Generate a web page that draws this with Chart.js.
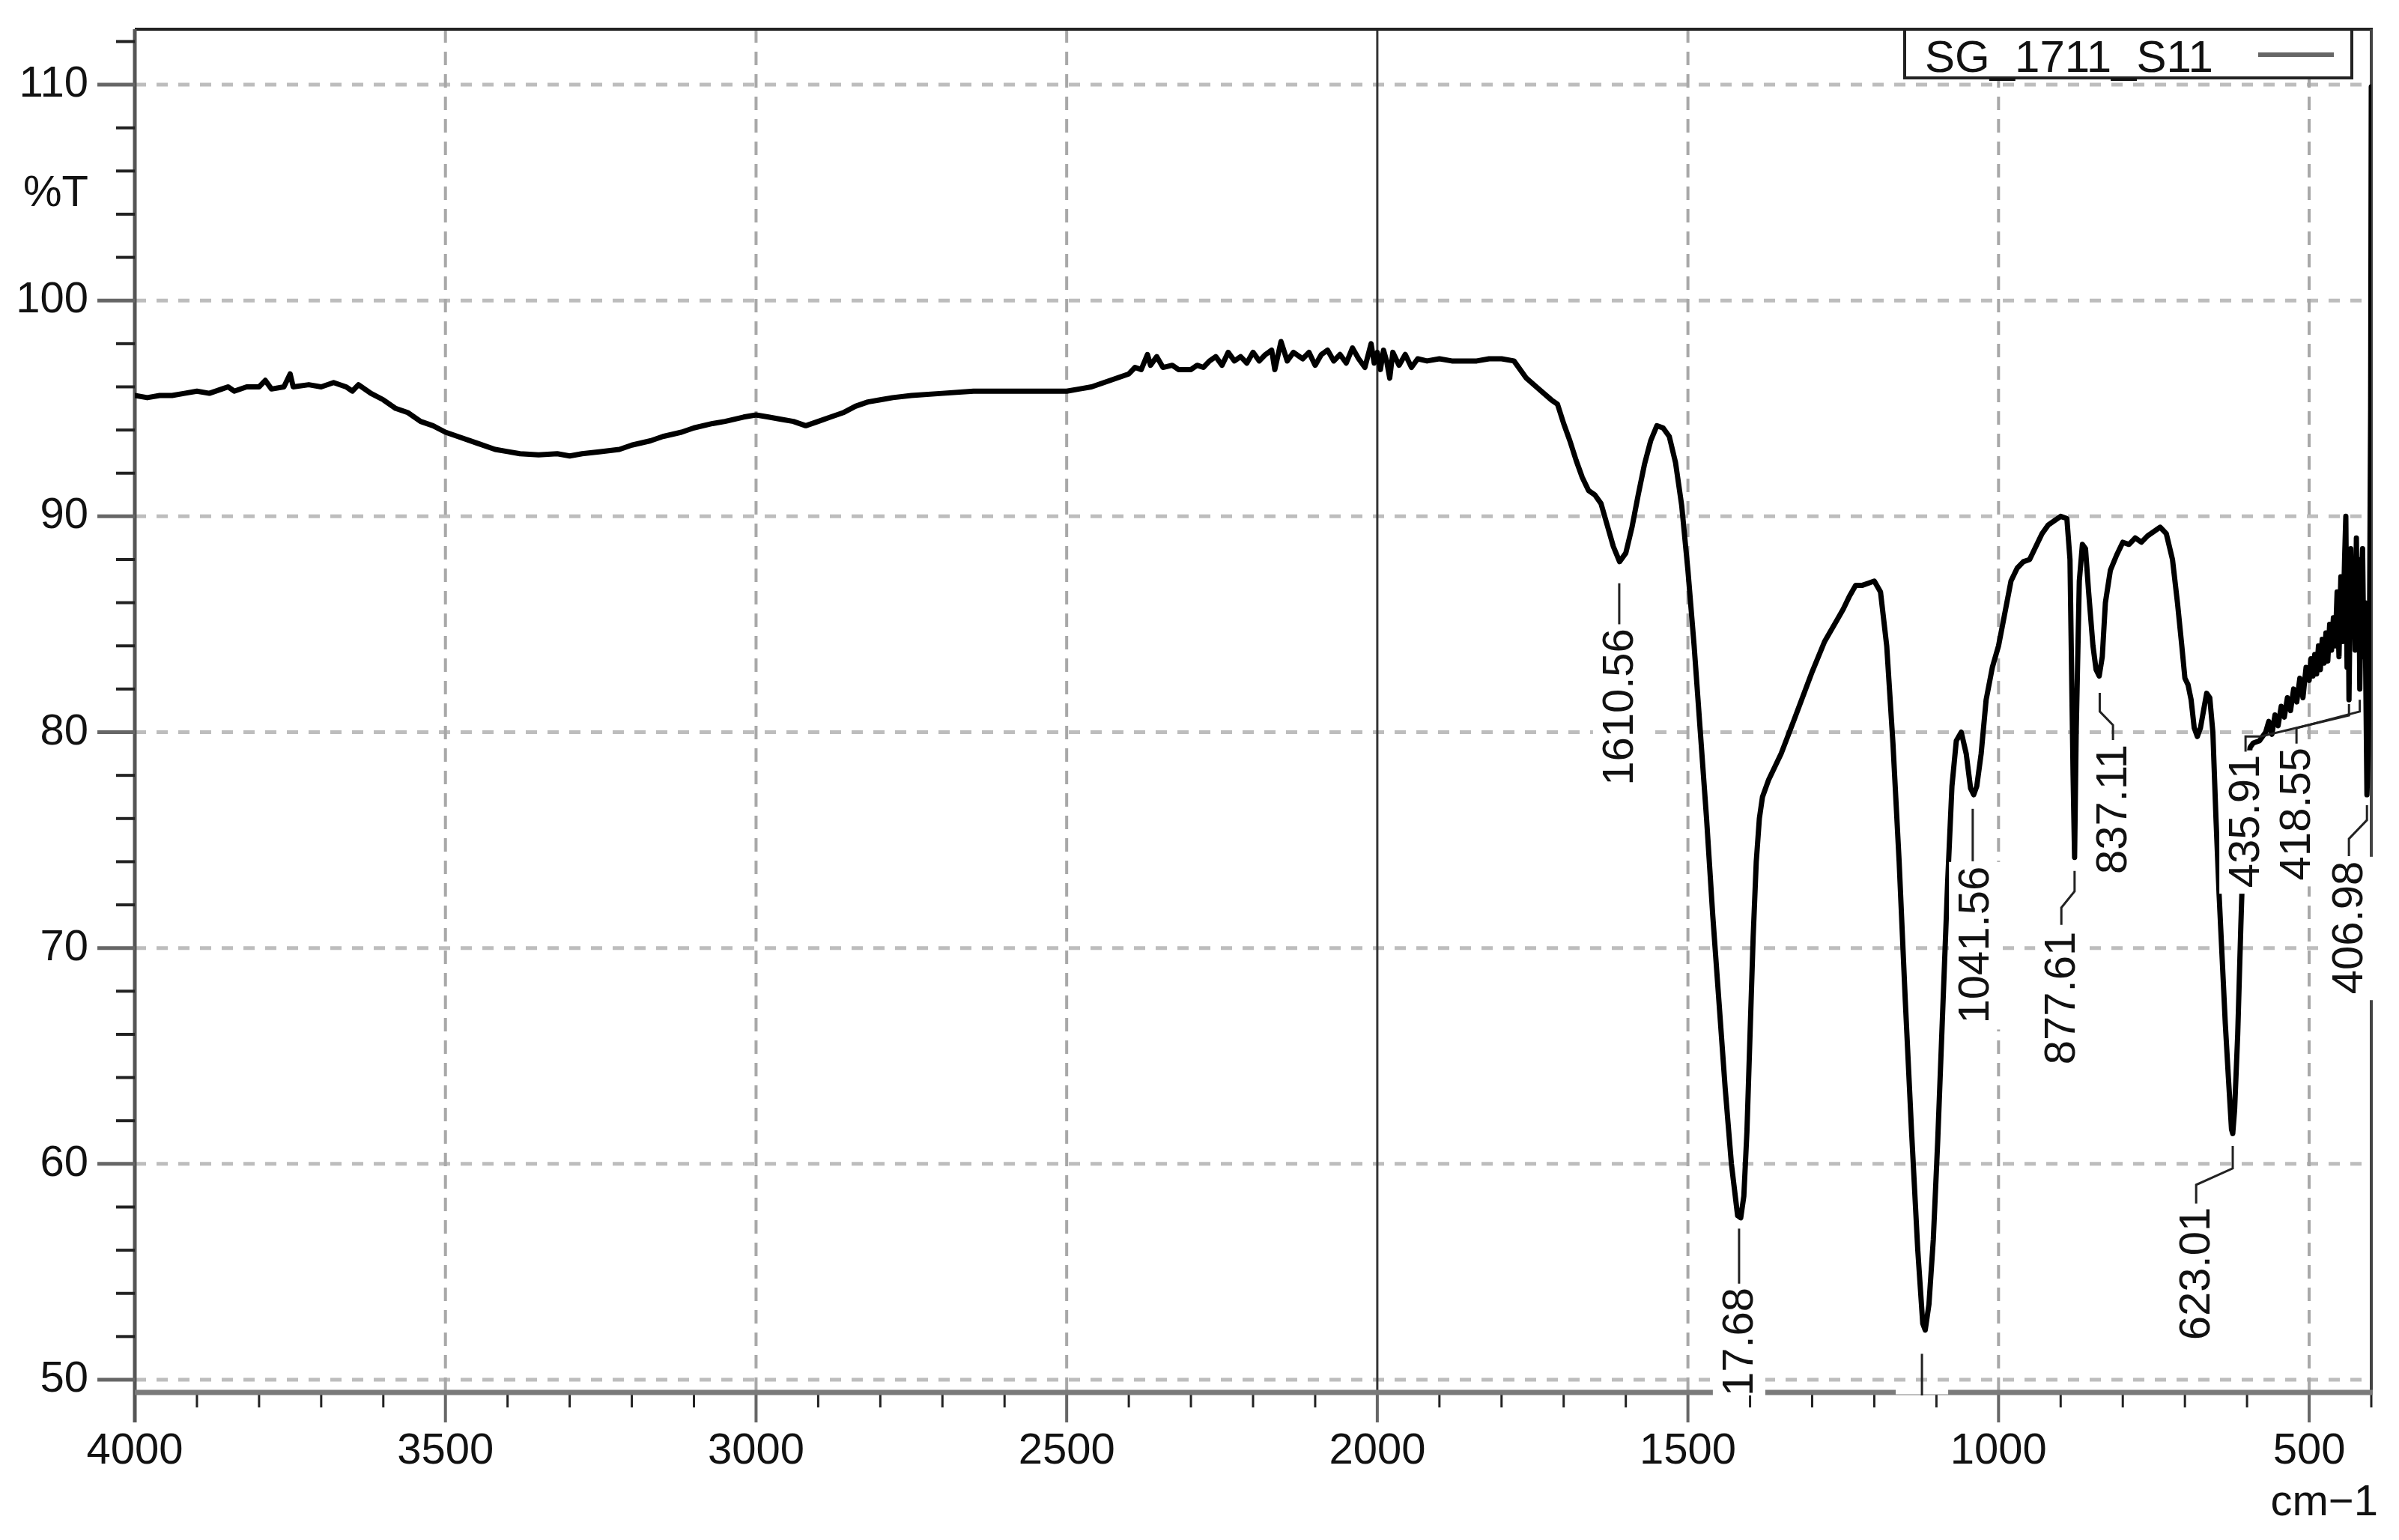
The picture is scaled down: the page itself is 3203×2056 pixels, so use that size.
<!DOCTYPE html>
<html>
<head>
<meta charset="utf-8">
<script src="https://cdn.jsdelivr.net/npm/chart.js@4.4.1/dist/chart.umd.min.js"></script>
<style>
  html, body { margin: 0; padding: 0; background: #fff; }
  canvas { display: block; }
</style>
</head>
<body>
<canvas id="ir" width="3203" height="2056"></canvas>
<script>
// IR spectrum SG_1711_S11, wavenumber (cm-1) vs %T
const wavenumbers = [
  4000, 3980, 3960, 3940, 3920, 3900, 3880, 3860, 3850, 3840,
  3820, 3800, 3790, 3780, 3760, 3750, 3745, 3720, 3700, 3680,
  3660, 3650, 3640, 3620, 3600, 3580, 3560, 3540, 3520, 3500,
  3480, 3450, 3420, 3400, 3380, 3350, 3320, 3300, 3280, 3250,
  3220, 3200, 3170, 3150, 3120, 3100, 3070, 3050, 3020, 3000,
  2980, 2960, 2940, 2920, 2900, 2880, 2860, 2840, 2820, 2800,
  2780, 2750, 2700, 2650, 2600, 2550, 2500, 2480, 2460, 2440,
  2420, 2400, 2390, 2380, 2370, 2365, 2355, 2345, 2330, 2320,
  2300, 2290, 2280, 2270, 2260, 2250, 2240, 2230, 2220, 2210,
  2200, 2190, 2180, 2170, 2165, 2155, 2145, 2135, 2120, 2110,
  2100, 2090, 2080, 2070, 2060, 2050, 2040, 2030, 2020, 2010,
  2005, 2000, 1995, 1990, 1985, 1980, 1975, 1965, 1955, 1945,
  1935, 1920, 1900, 1880, 1860, 1840, 1820, 1800, 1780, 1760,
  1740, 1720, 1710, 1700, 1690, 1680, 1670, 1660, 1650, 1640,
  1630, 1620, 1610, 1600, 1590, 1580, 1570, 1560, 1550, 1540,
  1530, 1520, 1510, 1500, 1490, 1480, 1470, 1460, 1450, 1440,
  1430, 1420, 1415, 1410, 1405, 1400, 1395, 1390, 1385, 1380,
  1370, 1350, 1330, 1300, 1280, 1260, 1250, 1240, 1230, 1220,
  1210, 1200, 1190, 1180, 1170, 1160, 1150, 1140, 1130, 1122,
  1118, 1112, 1105, 1098, 1090, 1082, 1075, 1068, 1060, 1052,
  1045, 1040, 1035, 1028, 1020, 1010, 1000, 990, 980, 970,
  960, 950, 940, 930, 920, 910, 900, 890, 885, 880,
  877.6, 875, 870, 865, 860, 855, 848, 843, 838, 833,
  828, 820, 810, 800, 790, 780, 770, 760, 750, 740,
  730, 720, 712, 705, 700, 695, 690, 685, 680, 675,
  670, 665, 660, 655, 650, 645, 640, 635, 630, 625,
  623, 620, 615, 610, 605, 600, 595, 590, 580, 570,
  565, 560, 555, 550, 545, 540, 535, 530, 525, 520,
  515, 510, 505, 500, 497, 494, 491, 488, 485, 482,
  479, 476, 473, 470, 467, 464, 461, 458, 455, 452,
  449, 446, 443, 441, 439, 437, 435.9, 433, 430, 428,
  426, 424, 422, 420, 418.5, 416, 414, 412, 410, 408,
  407, 405, 403, 401, 400
];
const transmittance = [
  95.6, 95.5, 95.6, 95.6, 95.7, 95.8, 95.7, 95.9, 96.0, 95.8,
  96.0, 96.0, 96.3, 95.9, 96.0, 96.6, 96.0, 96.1, 96.0, 96.2,
  96.0, 95.8, 96.1, 95.7, 95.4, 95.0, 94.8, 94.4, 94.2, 93.9,
  93.7, 93.4, 93.1, 93.0, 92.9, 92.85, 92.9, 92.8, 92.9, 93.0,
  93.1, 93.3, 93.5, 93.7, 93.9, 94.1, 94.3, 94.4, 94.6, 94.7,
  94.6, 94.5, 94.4, 94.2, 94.4, 94.6, 94.8, 95.1, 95.3, 95.4,
  95.5, 95.6, 95.7, 95.8, 95.8, 95.8, 95.8, 95.9, 96.0, 96.2,
  96.4, 96.6, 96.9, 96.8, 97.5, 97.0, 97.4, 96.9, 97.0, 96.8,
  96.8, 97.0, 96.9, 97.2, 97.4, 97.0, 97.6, 97.2, 97.4, 97.1,
  97.6, 97.2, 97.5, 97.7, 96.8, 98.1, 97.2, 97.6, 97.3, 97.6,
  97.0, 97.5, 97.7, 97.2, 97.5, 97.1, 97.8, 97.3, 96.9, 98.0,
  97.1, 97.6, 96.8, 97.7, 97.2, 96.4, 97.6, 97.0, 97.5, 96.9,
  97.3, 97.2, 97.3, 97.2, 97.2, 97.2, 97.3, 97.3, 97.2, 96.4,
  95.9, 95.4, 95.2, 94.3, 93.5, 92.6, 91.8, 91.2, 91.0, 90.6,
  89.6, 88.6, 87.9, 88.3, 89.5, 91.0, 92.4, 93.5, 94.2, 94.1,
  93.7, 92.5, 90.5, 87.5, 84.0, 80.0, 76.0, 71.5, 67.5, 63.5,
  60.0, 57.6, 57.5, 58.5, 61.5, 66.0, 70.5, 74.0, 76.0, 77.0,
  77.8, 79.0, 80.5, 82.8, 84.2, 85.2, 85.7, 86.3, 86.8, 86.8,
  86.9, 87.0, 86.5, 84.0, 79.5, 74.0, 67.5, 61.5, 56.0, 52.6,
  52.3, 53.5, 56.5, 61.0, 67.0, 73.0, 77.5, 79.6, 80.0, 79.0,
  77.4, 77.1, 77.5, 79.0, 81.5, 83.0, 84.0, 85.5, 87.0, 87.6,
  87.9, 88.0, 88.6, 89.2, 89.6, 89.8, 90.0, 89.9, 88.0, 78.0,
  74.2, 80.0, 87.0, 88.7, 88.5, 86.5, 84.0, 82.9, 82.6, 83.5,
  86.0, 87.5, 88.2, 88.8, 88.7, 89.0, 88.8, 89.1, 89.3, 89.5,
  89.2, 88.0, 86.0, 84.0, 82.5, 82.2, 81.5, 80.2, 79.8, 80.2,
  81.0, 81.8, 81.6, 80.0, 76.0, 72.5, 69.5, 66.5, 64.0, 61.6,
  61.4, 62.5, 66.0, 71.0, 75.5, 78.3, 79.3, 79.5, 79.6, 80.0,
  80.5, 79.9, 80.8, 80.3, 81.2, 80.7, 81.6, 81.0, 82.0, 81.4,
  82.5, 81.6, 83.0, 82.4, 83.4, 82.6, 83.6, 82.7, 84.0, 82.9,
  84.3, 83.2, 84.6, 83.3, 85.0, 83.8, 85.3, 84.0, 86.5, 83.5,
  87.2, 84.2, 88.0, 90.0, 83.0, 86.0, 81.5, 88.5, 84.5, 87.5,
  83.8, 89.0, 84.0, 88.0, 82.0, 87.0, 88.5, 83.5, 86.0, 80.0,
  77.1, 79.0, 84.0, 95.0, 109.9
];

const xTickLabels = [4000, 3500, 3000, 2500, 2000, 1500, 1000, 500];
const yTickLabels = [50, 60, 70, 80, 90, 100, 110];
const seriesName = 'SG_1711_S11';

// peak labels: text, where the rotated text ends (top), and the leader line (all in data units)
const peakLabels = ['1610.56', '1417.68', '', '1041.56', '877.61', '837.11', '623.01', '435.91', '418.55', '406.98'];
const labelLayout = [
  { at: [1610.56, 84.8], leader: [[1610.56, 86.9], [1610.56, 85.0]] },
  { at: [1417.68, 54.27], leader: [[1417.68, 57.0], [1417.68, 54.45]] },
  { at: [1123.3, 49.6], leader: [[1123.3, 51.2], [1123.3, 49.0]] },
  { at: [1037.6, 73.78], leader: [[1041.56, 76.45], [1041.56, 74.02]] },
  { at: [898.9, 70.76], leader: [[877.61, 73.57], [877.61, 72.63], [898.9, 71.87], [898.9, 71.07]] },
  { at: [815.8, 79.43], leader: [[837.11, 81.82], [837.11, 80.96], [815.8, 80.33], [815.8, 79.64]] },
  { at: [681.9, 57.99], leader: [[623.01, 60.83], [623.01, 59.79], [681.9, 59.03], [681.9, 58.16]] },
  { at: [602.4, 78.95], leader: [[435.9, 81.3], [435.9, 80.78], [578, 79.8], [602.4, 79.8], [602.4, 79.1]] },
  { at: [520.4, 79.29], leader: [[418.55, 81.5], [418.55, 80.96], [520.4, 80.19], [520.4, 79.47]] },
  { at: [436.0, 74.02], leader: [[406.98, 76.62], [406.98, 75.93], [436.0, 75.06], [436.0, 74.26]] }
];

const FONT = "'Liberation Sans', Arial, sans-serif";
const TEXT = '#111';

// Draws grid, frame and tick marks under the curve.
const framePlugin = {
  id: 'frame',
  beforeDatasetsDraw(chart) {
    const { ctx, chartArea: a, scales: { x, y } } = chart;
    ctx.save();
    ctx.lineCap = 'butt';

    // horizontal dashed grid
    ctx.setLineDash([15, 14]);
    ctx.strokeStyle = '#bdbdbd';
    ctx.lineWidth = 5;
    yTickLabels.forEach(v => {
      const py = y.getPixelForValue(v);
      ctx.beginPath(); ctx.moveTo(a.left, py); ctx.lineTo(a.right, py); ctx.stroke();
    });

    // vertical dashed grid
    ctx.setLineDash([18, 12]);
    ctx.strokeStyle = '#a8a8a8';
    ctx.lineWidth = 4;
    xTickLabels.forEach(w => {
      if (w === 2000 || w === 4000) return;
      const px = x.getPixelForValue(w);
      ctx.beginPath(); ctx.moveTo(px, a.top); ctx.lineTo(px, a.bottom); ctx.stroke();
    });
    ctx.setLineDash([]);

    // solid line at 2000
    ctx.strokeStyle = '#333';
    ctx.lineWidth = 3;
    const p2000 = x.getPixelForValue(2000);
    ctx.beginPath(); ctx.moveTo(p2000, a.top); ctx.lineTo(p2000, a.bottom); ctx.stroke();

    // top and right frame
    ctx.strokeStyle = '#222';
    ctx.lineWidth = 4;
    ctx.beginPath(); ctx.moveTo(a.left, a.top); ctx.lineTo(a.right + 2, a.top); ctx.stroke();
    ctx.strokeStyle = '#444';
    ctx.beginPath(); ctx.moveTo(a.right, a.top); ctx.lineTo(a.right, a.bottom); ctx.stroke();

    // left axis (runs down into the 4000 tick)
    ctx.strokeStyle = '#555';
    ctx.lineWidth = 5;
    ctx.beginPath(); ctx.moveTo(a.left, a.top); ctx.lineTo(a.left, a.bottom + 40); ctx.stroke();

    // y ticks: major every 10, minor every 2
    for (let v = 50; v <= 112; v += 2) {
      const py = y.getPixelForValue(v);
      const major = v % 10 === 0;
      ctx.strokeStyle = major ? '#666' : '#222';
      ctx.lineWidth = major ? 5 : 4;
      ctx.beginPath(); ctx.moveTo(a.left - (major ? 50 : 25), py); ctx.lineTo(a.left, py); ctx.stroke();
    }

    // x ticks: major every 500, minor every 100
    for (let w = 400; w < 4000; w += 100) {
      const px = x.getPixelForValue(w);
      const major = w % 500 === 0;
      ctx.strokeStyle = major ? '#666' : '#222';
      ctx.lineWidth = major ? 4 : 3;
      ctx.beginPath(); ctx.moveTo(px, a.bottom); ctx.lineTo(px, a.bottom + (major ? 40 : 20)); ctx.stroke();
    }

    // bottom axis
    ctx.strokeStyle = '#7a7a7a';
    ctx.lineWidth = 7;
    ctx.beginPath(); ctx.moveTo(a.left, a.bottom); ctx.lineTo(a.right + 2, a.bottom); ctx.stroke();
    ctx.restore();
  }
};

// Peak labels: white box, leader line and vertical text on top of the curve.
const peakPlugin = {
  id: 'peaks',
  afterDatasetsDraw(chart) {
    const { ctx, chartArea: a, scales: { x, y } } = chart;
    ctx.save();
    ctx.beginPath();
    ctx.rect(a.left, a.top, a.right - a.left + 2, a.bottom - a.top + 4);
    ctx.clip();
    ctx.font = `58px ${FONT}`;
    peakLabels.forEach((text, i) => {
      const lay = labelLayout[i];
      const cx = x.getPixelForValue(lay.at[0]);
      const top = y.getPixelForValue(lay.at[1]);
      const len = text ? ctx.measureText(text).width : 0;
      ctx.fillStyle = '#fff';
      ctx.fillRect(cx - 35, top - 6, 70, len + 14);

      ctx.strokeStyle = '#222';
      ctx.lineWidth = 3;
      ctx.beginPath();
      lay.leader.forEach(([w, v], k) => {
        const px = x.getPixelForValue(w), py = y.getPixelForValue(v);
        if (k === 0) ctx.moveTo(px, py); else ctx.lineTo(px, py);
      });
      ctx.stroke();

      if (text) {
        ctx.save();
        ctx.translate(cx, top);
        ctx.rotate(-Math.PI / 2);
        ctx.fillStyle = TEXT;
        ctx.textAlign = 'right';
        ctx.textBaseline = 'middle';
        ctx.fillText(text, 0, 2);
        ctx.restore();
      }
    });
    ctx.restore();
  }
};

// Legend box, axis unit texts.
const legendPlugin = {
  id: 'legendBox',
  afterDraw(chart) {
    const { ctx } = chart;
    ctx.save();
    ctx.fillStyle = '#fff';
    ctx.fillRect(2543, 39, 597, 65);
    ctx.strokeStyle = '#222';
    ctx.lineWidth = 4;
    ctx.strokeRect(2543, 39, 597, 65);
    ctx.fillStyle = TEXT;
    ctx.font = `60px ${FONT}`;
    ctx.textBaseline = 'alphabetic';
    ctx.fillText(seriesName, 2570, 96);
    ctx.strokeStyle = '#666';
    ctx.lineWidth = 6;
    ctx.beginPath(); ctx.moveTo(3015, 73); ctx.lineTo(3116, 73); ctx.stroke();

    ctx.font = `58px ${FONT}`;
    ctx.textAlign = 'right';
    ctx.textBaseline = 'middle';
    ctx.fillText('%T', 118, 259);
    ctx.textBaseline = 'alphabetic';
    ctx.fillText('cm\u22121', 3175, 2023);
    ctx.restore();
  }
};

const points = wavenumbers.map((w, i) => ({ x: w, y: transmittance[i] }));

new Chart(document.getElementById('ir'), {
  type: 'line',
  data: {
    datasets: [{
      label: seriesName,
      data: points,
      borderColor: '#000',
      borderWidth: 7,
      borderJoinStyle: 'round',
      borderCapStyle: 'round',
      pointRadius: 0,
      tension: 0,
      fill: false
    }]
  },
  options: {
    responsive: false,
    devicePixelRatio: 1,
    animation: false,
    layout: { padding: { top: 39, right: 37, bottom: 0, left: 0 } },
    plugins: { legend: { display: false }, tooltip: { enabled: false } },
    scales: {
      x: {
        type: 'linear',
        reverse: true,
        min: 400,
        max: 4000,
        afterBuildTicks: s => { s.ticks = xTickLabels.map(v => ({ value: v })); },
        afterFit: s => { s.height = 197; s.paddingLeft = 0; s.paddingRight = 0; },
        grid: { display: false, drawTicks: false },
        border: { display: false },
        ticks: {
          autoSkip: false,
          maxRotation: 0,
          padding: 44,
          color: TEXT,
          font: { family: FONT, size: 58 },
          callback: v => String(v)
        }
      },
      y: {
        type: 'linear',
        min: 49.41,
        max: 112.57,
        afterBuildTicks: s => { s.ticks = yTickLabels.map(v => ({ value: v })); },
        afterFit: s => { s.width = 180; s.paddingTop = 0; s.paddingBottom = 0; },
        grid: { display: false, drawTicks: false },
        border: { display: false },
        ticks: {
          padding: 62,
          color: TEXT,
          font: { family: FONT, size: 58 },
          callback: v => String(v)
        }
      }
    }
  },
  plugins: [framePlugin, peakPlugin, legendPlugin]
});
</script>
</body>
</html>
